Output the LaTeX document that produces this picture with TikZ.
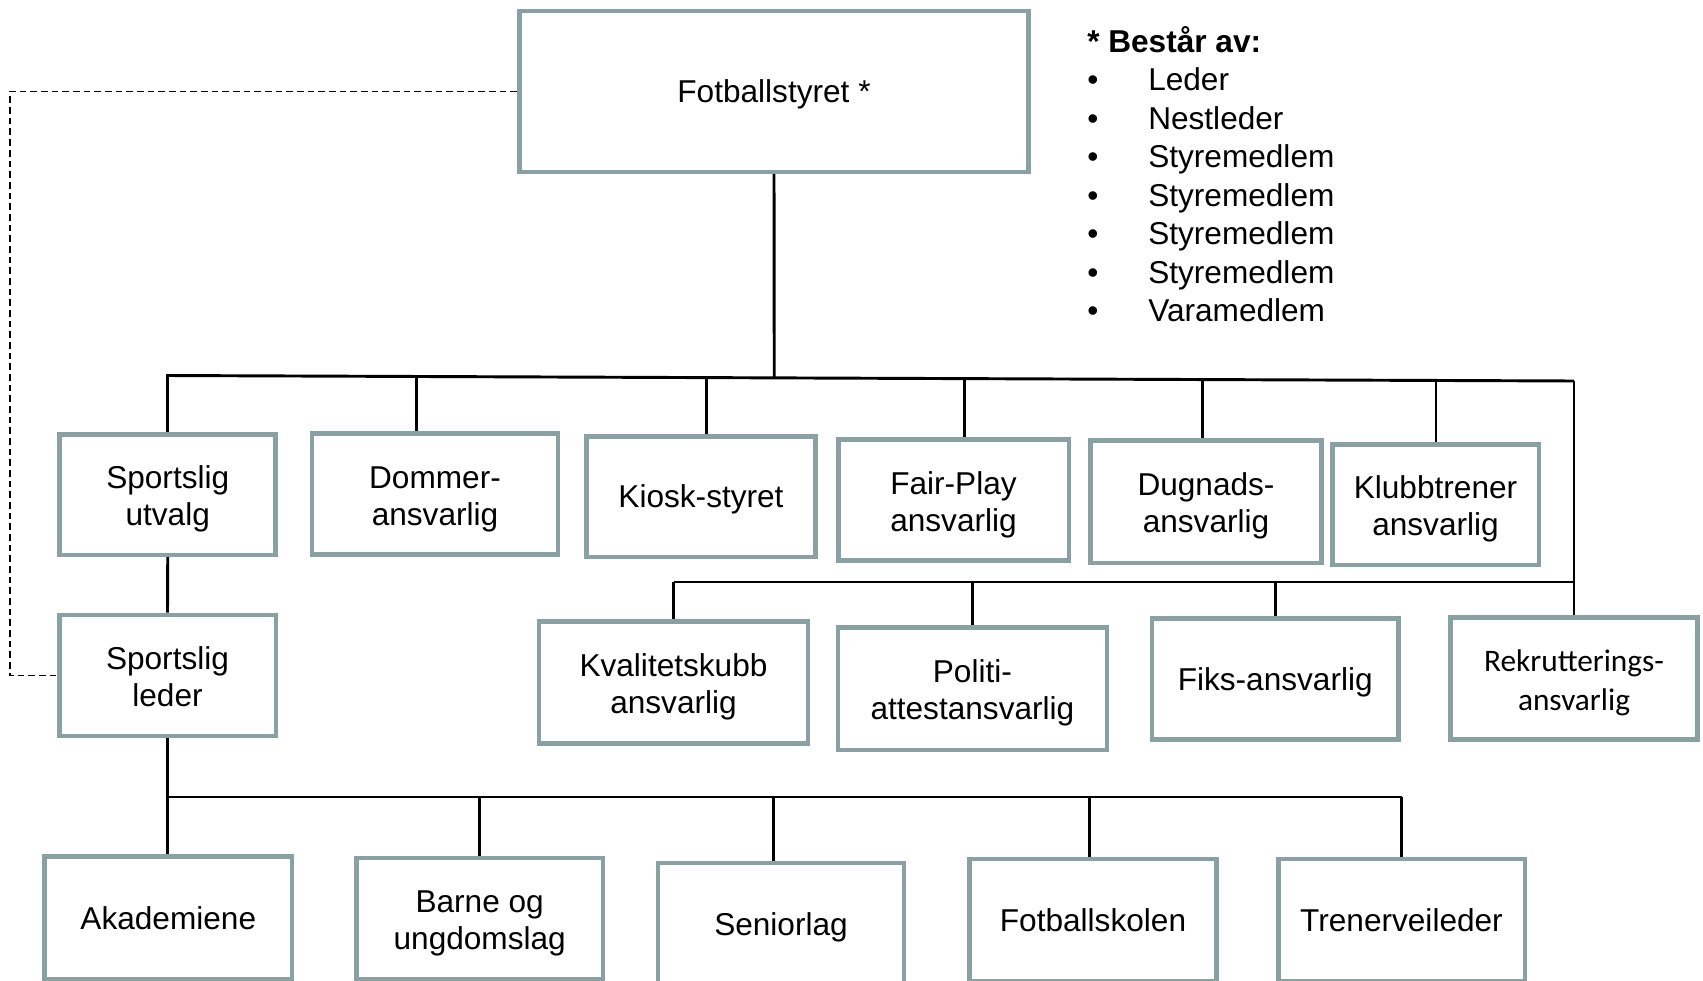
\documentclass[tikz,border=0pt]{standalone}
\usepackage{fontspec}
\setmainfont{Liberation Sans}
\newfontfamily\rekfont{Carlito}
\usetikzlibrary{calc}
\definecolor{boxgray}{RGB}{138,161,164}
\pgfdeclarelayer{bg}
\pgfsetlayers{bg,main}
\newcommand{\capstrut}{\rule[-5pt]{0pt}{27pt}}
\newcommand{\rekstrut}{\rule[-5pt]{0pt}{25.2pt}}
\newcommand{\fl}{\rule{0pt}{24pt}}
\tikzset{
  orgbox/.style={draw=boxgray, line width=3.4pt, fill=white, align=center, inner sep=0pt,
    font=\fontsize{23.7pt}{27.75pt}\selectfont, text=black,
    execute at begin node=\capstrut, execute at end node=\capstrut},
  link/.style={draw=black, line width=2.2pt},
  dashlink/.style={draw=black, line width=1.1pt, dash pattern=on 5pt off 3pt},
  legtext/.style={inner sep=0pt, anchor=base west, font=\fontsize{23.7pt}{28.9pt}\selectfont},
}
\begin{document}
\begin{tikzpicture}[x=0.75pt,y=-0.75pt]
\useasboundingbox (0,0) rectangle (1703,981);
\clip (0,0) rectangle (1703,981);

% top
\node[orgbox, minimum width=382.1pt, minimum height=120.4pt] (top) at (774,91.5) {Fotballstyret *};

% legend
\node[legtext] (leghead) at (1087,52.3) {\textbf{* Består av:}};
\foreach \t [count=\i] in {Leder,Nestleder,Styremedlem,Styremedlem,Styremedlem,Styremedlem,Varamedlem}{
  \node[legtext] (bul\i) at (1087,{52.3+38.5*\i}) {•};
  \node[legtext] (item\i) at (1148,{52.3+38.5*\i}) {\t};
}

% row 1
\node[orgbox, minimum width=162pt, minimum height=90.4pt] (su) at (167.75,494.5) {\fl Sportslig\\utvalg};
\node[orgbox, minimum width=184.8pt, minimum height=91.1pt] (dom) at (435,494) {\fl Dommer-\\ansvarlig};
\node[orgbox, minimum width=172.1pt, minimum height=90.4pt] (kiosk) at (701,496.5) {Kiosk-styret};
\node[orgbox, minimum width=172.9pt, minimum height=91.1pt] (fair) at (953.5,500) {\fl Fair-Play\\ansvarlig};
\node[orgbox, minimum width=173.6pt, minimum height=91.9pt] (dug) at (1206,501.5) {\fl Dugnads-\\ansvarlig};
\node[orgbox, minimum width=154.9pt, minimum height=90.4pt] (klubb) at (1435.5,504.5) {\fl Klubbtrener\\ansvarlig};

% row 2
\node[orgbox, minimum width=162.4pt, minimum height=90.75pt] (sl) at (167.5,675.5) {\fl Sportslig\\leder};
\node[orgbox, minimum width=201.75pt, minimum height=91.5pt] (kval) at (673.5,682.4) {\fl Kvalitetskubb\\ansvarlig};
\node[orgbox, minimum width=201.75pt, minimum height=91.9pt] (pol) at (972.4,688.5) {\fl Politi-\\attestansvarlig};
\node[orgbox, minimum width=185pt, minimum height=90.9pt] (fiks) at (1275.2,678.9) {Fiks-ansvarlig};
\node[orgbox, minimum width=185.6pt, minimum height=91.65pt,
  font=\rekfont\fontsize{23.5pt}{29.3pt}\selectfont,
  execute at begin node=\rekstrut, execute at end node=\rekstrut] (rek) at (1574,678.4) {\fl Rekrutterings-\\ansvarlig};

% row 3
\node[orgbox, minimum width=185.6pt, minimum height=91.9pt] (aka) at (168.3,917.75) {Akademiene};
\node[orgbox, minimum width=185.2pt, minimum height=90.75pt] (barne) at (479.7,918.5) {\rule{0pt}{23pt}Barne og\\ungdomslag};
\node[orgbox, minimum width=184.3pt, minimum height=92.25pt] (sen) at (781,924.5) {Seniorlag};
\node[orgbox, minimum width=185.6pt, minimum height=91.7pt] (fsk) at (1093,920) {Fotballskolen};
\node[orgbox, minimum width=184.9pt, minimum height=91.7pt] (tren) at (1401.5,920) {Trenerveileder};

\begin{pgfonlayer}{bg}
  % top bus
  \coordinate (busL) at (166,375.5);
  \coordinate (busR) at (1574,381);
  \coordinate (bTop) at ($(busL)!0.432!(busR)$);
  \coordinate (bDom) at ($(busL)!0.178!(busR)$);
  \coordinate (bKiosk) at ($(busL)!0.384!(busR)$);
  \coordinate (bFair) at ($(busL)!0.567!(busR)$);
  \coordinate (bDug) at ($(busL)!0.736!(busR)$);
  \coordinate (bKlubb) at ($(busL)!0.902!(busR)$);
  \draw[link] (busL) -- (busR);
  \draw[link] (top.south) -- (bTop);
  \draw[link] (su.north) -- (su.north |- busL);
  \draw[link] (bDom) -- (bDom |- dom.north);
  \draw[link] (bKiosk) -- (bKiosk |- kiosk.north);
  \draw[link] (bFair) -- (bFair |- fair.north);
  \draw[link] (bDug) -- (bDug |- dug.north);
  \draw[link] (bKlubb) -- (bKlubb |- klubb.north);
  \draw[link] (busR) -- (rek.north);
  % second bus
  \coordinate (bus2L) at (673.5,582);
  \draw[link] (bus2L) -- (bus2L -| rek.north);
  \draw[link] (kval.north) -- (kval.north |- bus2L);
  \draw[link] (pol.north) -- (pol.north |- bus2L);
  \draw[link] (fiks.north) -- (fiks.north |- bus2L);
  % sportslig
  \draw[link] (su.south) -- (sl.north);
  % bottom bus
  \coordinate (bus3L) at (167.5,797);
  \coordinate (bSen) at (773.4,797);
  \coordinate (bFsk) at (1089.4,797);
  \draw[link] (sl.south) -- (sl.south |- aka.north);
  \draw[link] (bus3L) -- (tren.north |- bus3L);
  \draw[link] (barne.north) -- (barne.north |- bus3L);
  \draw[link] (bSen) -- (bSen |- sen.north);
  \draw[link] (bFsk) -- (bFsk |- fsk.north);
  \draw[link] (tren.north) -- (tren.north |- bus3L);
  % dashed
  \coordinate (dashcorner) at (10,91.5);
  \draw[dashlink] (top.west) -- (dashcorner) |- (sl.west);
\end{pgfonlayer}
\end{tikzpicture}
\end{document}
